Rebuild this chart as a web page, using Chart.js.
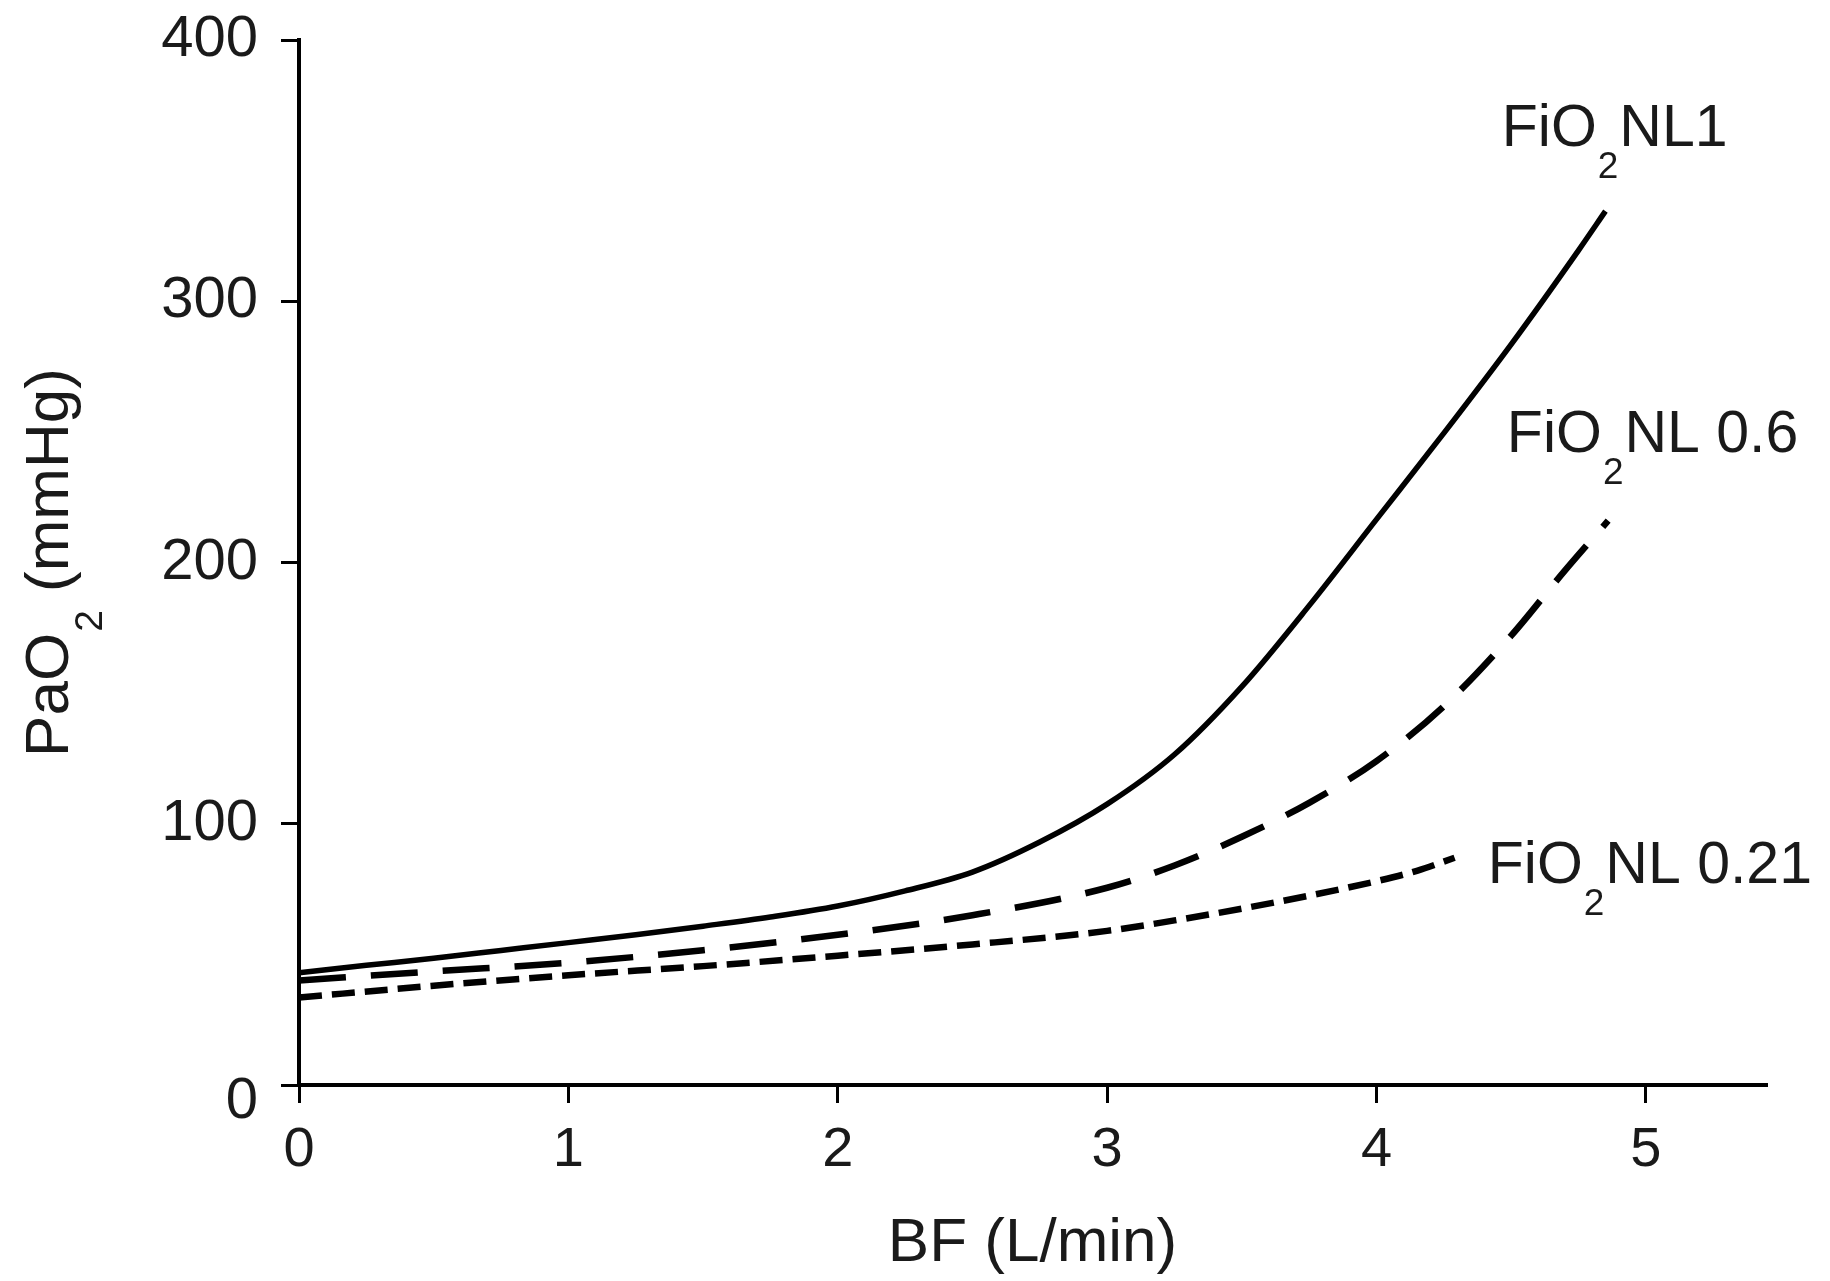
<!DOCTYPE html>
<html>
<head>
<meta charset="utf-8">
<script src="https://cdn.jsdelivr.net/npm/chart.js@4.4.1/dist/chart.umd.min.js"></script>
<style>
  html, body { margin: 0; padding: 0; background: #ffffff; }
  #wrap { width: 1830px; height: 1281px; position: relative; }
  canvas { display: block; }
</style>
</head>
<body>
<div id="wrap"><canvas id="c" width="1830" height="1281"></canvas></div>
<script>
// ---------- data ----------
const xTicks = [0, 1, 2, 3, 4, 5];
const yTicks = [0, 100, 200, 300, 400];

// FiO2NL 1 (solid)
const bf_fio1   = [0, 0.25, 0.5, 0.75, 1, 1.25, 1.5, 1.75, 2, 2.25, 2.5, 2.75, 3, 3.25, 3.5, 3.75, 4, 4.25, 4.5, 4.75, 4.85];
const pao2_fio1 = [43, 45.8, 48.5, 51.5, 54.5, 57.5, 60.8, 64.3, 68.5, 74.3, 81.5, 93, 107.5, 126.5, 152.5, 183.5, 216.5, 249.5, 283.5, 319.5, 334.5];

// FiO2NL 0.6 (long dashes)
const bf_fio06   = [0, 0.5, 1, 1.5, 2, 2.5, 3, 3.25, 3.5, 3.75, 4, 4.25, 4.5, 4.7, 4.86];
const pao2_fio06 = [40, 43.5, 46.8, 51.6, 57.5, 65, 75.5, 84, 95, 108, 124, 145, 172, 197, 216];

// FiO2NL 0.21 (short dashes)
const bf_fio021   = [0, 0.5, 1, 1.5, 2, 2.5, 3, 3.25, 3.5, 3.75, 4, 4.15, 4.29];
const pao2_fio021 = [33.5, 38, 42, 45.5, 49.5, 53.8, 59, 63, 67.5, 72.5, 78, 82, 87];

// series label text (main part, subscript, rest)
const seriesLabels = [
  ['FiO', '2', 'NL1'],
  ['FiO', '2', 'NL 0.6'],
  ['FiO', '2', 'NL 0.21']
];
const xTitle = 'BF (L/min)';
const yTitle = ['PaO', '2', ' (mmHg)'];

// ---------- layout / style (not data) ----------
const labelAnchors = [ {x: 4.465, y: 359.4}, {x: 4.484, y: 242.3}, {x: 4.413, y: 77.3} ];
const FONT = '"Liberation Sans", Arial, Helvetica, sans-serif';
const TEXT = '#1a1a1a';
const Y_TICK_FONT = 58;

function pts(xs, ys) { return xs.map((x, i) => ({x: x, y: ys[i]})); }

const textPlugin = {
  id: 'texts',
  afterDraw(chart) {
    const ctx = chart.ctx;
    const xs = chart.scales.x, ys = chart.scales.y;
    const area = chart.chartArea;
    ctx.save();
    ctx.fillStyle = TEXT;
    ctx.textBaseline = 'alphabetic';
    ctx.textAlign = 'left';
    // series labels
    seriesLabels.forEach((parts, i) => {
      const px = xs.getPixelForValue(labelAnchors[i].x);
      const py = ys.getPixelForValue(labelAnchors[i].y);
      ctx.font = '59px ' + FONT;
      ctx.fillText(parts[0], px, py);
      let w = ctx.measureText(parts[0]).width;
      ctx.font = '37px ' + FONT;
      ctx.fillText(parts[1], px + w + 1, py + 32);
      w += ctx.measureText(parts[1]).width + 2;
      ctx.font = '59px ' + FONT;
      ctx.fillText(parts[2], px + w, py);
    });
    // y tick label "0" sits slightly below its tick, as in the original
    ctx.font = Y_TICK_FONT + 'px ' + FONT;
    ctx.textAlign = 'right';
    ctx.textBaseline = 'middle';
    ctx.fillText(String(yTicks[0]), area.left - 18 - 23, ys.getPixelForValue(yTicks[0]) + 17);
    ctx.textAlign = 'left';
    ctx.textBaseline = 'alphabetic';
    // y axis title (rotated, with subscript)
    ctx.font = '62px ' + FONT;
    const w0 = ctx.measureText(yTitle[0]).width;
    const w2 = ctx.measureText(yTitle[2]).width;
    ctx.font = '39px ' + FONT;
    const w1 = ctx.measureText(yTitle[1]).width;
    const total = w0 + w1 + 2 + w2;
    const cy = (area.top + area.bottom) / 2;
    ctx.translate(area.left - 231, cy + total / 2);
    ctx.rotate(-Math.PI / 2);
    ctx.font = '62px ' + FONT;
    ctx.fillText(yTitle[0], 0, 0);
    ctx.font = '39px ' + FONT;
    ctx.fillText(yTitle[1], w0 + 1, 34);
    ctx.font = '62px ' + FONT;
    ctx.fillText(yTitle[2], w0 + w1 + 2, 0);
    ctx.restore();
  }
};

const axisCommon = {
  grid: { drawOnChartArea: false, drawTicks: true, tickLength: 18, color: '#000', lineWidth: 3 },
  border: { display: true, color: '#000', width: 4 }
};

new Chart(document.getElementById('c'), {
  type: 'line',
  data: {
    datasets: [
      { label: 'FiO2NL 1', data: pts(bf_fio1, pao2_fio1), borderColor: '#000', borderWidth: 5.5,
        borderDash: [], cubicInterpolationMode: 'monotone', pointRadius: 0, fill: false },
      { label: 'FiO2NL 0.6', data: pts(bf_fio06, pao2_fio06), borderColor: '#000', borderWidth: 6.5,
        borderDash: [47, 25], cubicInterpolationMode: 'monotone', pointRadius: 0, fill: false },
      { label: 'FiO2NL 0.21', data: pts(bf_fio021, pao2_fio021), borderColor: '#000', borderWidth: 6.5,
        borderDash: [23, 10], cubicInterpolationMode: 'monotone', pointRadius: 0, fill: false }
    ]
  },
  options: {
    responsive: false,
    animation: false,
    devicePixelRatio: 1,
    layout: { padding: { left: 0, right: 64, top: 40, bottom: 0 } },
    plugins: { legend: { display: false }, tooltip: { enabled: false } },
    scales: {
      x: Object.assign({}, axisCommon, {
        type: 'linear', min: 0, max: 5.446,
        afterBuildTicks: s => { s.ticks = xTicks.map(v => ({ value: v })); },
        afterFit: s => { s.height = 196; s.paddingLeft = 0; s.paddingRight = 0; },
        ticks: { font: { family: FONT, size: 56 }, color: TEXT, padding: 14, autoSkip: false, maxRotation: 0,
                 callback: v => String(v) },
        title: { display: true, text: xTitle, font: { family: FONT, size: 62 }, color: TEXT,
                 padding: { top: 0, bottom: 0 } }
      }),
      y: Object.assign({}, axisCommon, {
        type: 'linear', min: 0, max: 400,
        afterBuildTicks: s => { s.ticks = yTicks.map(v => ({ value: v })); },
        afterFit: s => { s.width = 299; s.paddingTop = 0; s.paddingBottom = 0; },
        ticks: { font: { family: FONT, size: Y_TICK_FONT }, color: TEXT, padding: 23, autoSkip: false,
                 callback: v => (v === yTicks[0] ? '' : String(v)) }
      })
    }
  },
  plugins: [textPlugin]
});
</script>
</body>
</html>
